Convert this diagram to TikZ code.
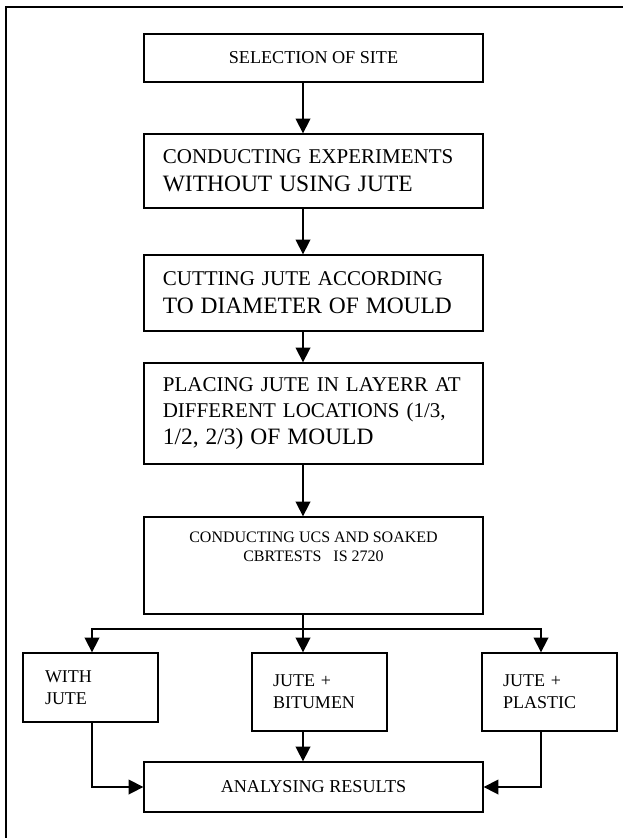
\documentclass[tikz,border=0pt]{standalone}
\usepackage{fontspec}
\setmainfont{Liberation Serif}
\usetikzlibrary{arrows.meta}

\begin{document}
\begin{tikzpicture}[x=0.75pt, y=-0.75pt,
    stepbox/.style={draw, line width=1pt, minimum width=254.25pt, text width=226pt, inner xsep=14.125pt, align=left, font=\fontsize{15.75}{21}\selectfont},
    plainbox/.style={draw, line width=1pt, minimum width=254.25pt, align=center, font=\fontsize{13.6}{16.5}\selectfont},
    sidebox/.style={draw, line width=1pt, minimum width=101.25pt, text width=69.75pt, inner xsep=15.75pt, align=left, font=\fontsize{13.5}{16.5}\selectfont},
    arr/.style={line width=1.2pt, -{Triangle[length=11pt,width=11pt]}},
    link/.style={line width=1.2pt}]
    \useasboundingbox (0,0) rectangle (623,838);
    % Draw page frame
    \draw[line width=1.5pt] (623,7) -- (5.5,7) -- (5.5,838);
    % Draw main steps
    \node[plainbox, line width=1.5pt, minimum height=36pt] (site) at (313.5,58) {SELECTION OF SITE};
    \node[stepbox, minimum height=55.5pt] (nojute) at (313.5,171) {CONDUCTING EXPERIMENTS\\ {\fontsize{17.6}{21}\selectfont WITHOUT USING JUTE}};
    \node[stepbox, minimum height=57pt] (cutting) at (313.5,293) {CUTTING JUTE ACCORDING\\ {\fontsize{17.6}{21}\selectfont TO DIAMETER OF MOULD}};
    \node[stepbox, minimum height=75.75pt, font=\fontsize{15.75}{20}\selectfont] (placing) at (313.5,413.5) {PLACING JUTE IN LAYERR AT\\ DIFFERENT LOCATIONS (1/3,\\ {\fontsize{17.6}{20}\selectfont 1/2, 2/3) OF MOULD}};
    \node[plainbox, minimum height=72.75pt, font=\fontsize{12}{14.25}\selectfont] (ucs) at (313.5,565.5) {CONDUCTING UCS AND SOAKED\\ CBRTESTS\ \ \ IS 2720\\[13.5pt]\mbox{}};
    % Draw the three cases
    \node[sidebox, minimum height=51.75pt, inner xsep=16.5pt, text width=68.25pt] (withjute) at (90.5,687.5) {WITH\\ JUTE};
    \node[sidebox, minimum height=58.5pt] (bitumen) at (319.5,692) {JUTE +\\ BITUMEN};
    \node[sidebox, minimum height=58.5pt] (plastic) at (549.5,692) {JUTE +\\ PLASTIC};
    \node[plainbox, minimum height=37.5pt] (res) at (313.5,787) {ANALYSING RESULTS};
    % Columns of the connectors
    \coordinate (colL) at (92,0);
    \coordinate (colM) at (303,0);
    \coordinate (colR) at (541,0);
    \coordinate (fork) at (303,629);
    % Draw arrows down the main column
    \draw[arr] (site.south -| colM) -- (nojute.north -| colM);
    \draw[arr] (nojute.south -| colM) -- (cutting.north -| colM);
    \draw[arr] (cutting.south -| colM) -- (placing.north -| colM);
    \draw[arr] (placing.south -| colM) -- (ucs.north -| colM);
    % Branch to the cases
    \draw[link] (ucs.south -| colM) -- (fork);
    \draw[arr] (fork) -| (withjute.north -| colL);
    \draw[arr] (fork) -- (bitumen.north -| colM);
    \draw[arr] (fork) -| (plastic.north -| colR);
    % Join at the results
    \draw[arr] (withjute.south -| colL) |- (res.west);
    \draw[arr] (bitumen.south -| colM) -- (res.north -| colM);
    \draw[arr] (plastic.south -| colR) |- (res.east);
\end{tikzpicture}
\end{document}
